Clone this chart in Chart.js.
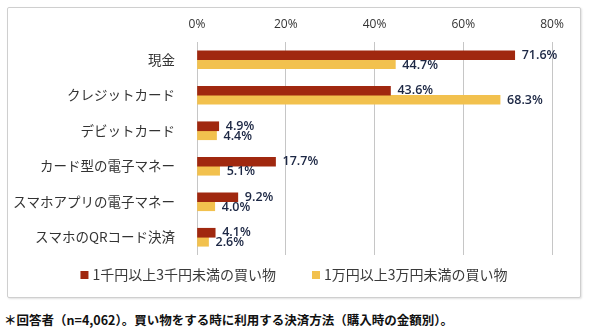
<!DOCTYPE html>
<html lang="ja">
<head>
<meta charset="utf-8">
<script src="https://cdn.jsdelivr.net/npm/chart.js@4.4.1/dist/chart.umd.min.js"></script>
<style>
  html, body { margin: 0; padding: 0; background: #fff; }
  body { width: 590px; height: 332px; position: relative; overflow: hidden; }
  .box {
    position: absolute; left: 7px; top: 7px; width: 572px; height: 289px;
    border: 1px solid #cfcfcf; border-radius: 2px; background: #fff;
    box-shadow: 1px 1px 2px rgba(0,0,0,0.12);
  }
  .note {
    position: absolute; left: 4px; top: 310px;
    font: bold 12.5px "Noto Sans CJK JP", sans-serif; color: #111; white-space: nowrap;
  }
</style>
</head>
<body>
<div class="box"><canvas id="myChart" width="572" height="289"></canvas></div>
<div class="note">＊回答者（n=4,062）。買い物をする時に利用する決済方法（購入時の金額別）。</div>
<script>
document.addEventListener("DOMContentLoaded", function () {
  // payment methods and share of respondents (%)
  var categories = [
    "現金",
    "クレジットカード",
    "デビットカード",
    "カード型の電子マネー",
    "スマホアプリの電子マネー",
    "スマホのQRコード決済",
  ];
  var seriesNames = ["1千円以上3千円未満の買い物", "1万円以上3万円未満の買い物"];
  var small = [71.6, 43.6, 4.9, 17.7, 9.2, 4.1];
  var large = [44.7, 68.3, 4.4, 5.1, 4.0, 2.6];
  var ticks = [0, 20, 40, 60, 80];

  var jp = '"Noto Sans CJK JP", sans-serif';

  // value labels at the end of each bar
  var valueLabels = {
    id: "valueLabels",
    afterDatasetsDraw: function (chart) {
      var ctx = chart.ctx;
      ctx.save();
      ctx.font = '600 12.5px "Open Sans", sans-serif';
      ctx.fillStyle = "#1c2744";
      ctx.textAlign = "left";
      ctx.textBaseline = "middle";
      chart.data.datasets.forEach(function (ds, i) {
        chart.getDatasetMeta(i).data.forEach(function (bar, j) {
          ctx.fillText(ds.data[j].toFixed(1) + "%", bar.x + 7, bar.y + (i === 1 ? 1 : 0));
        });
      });
      ctx.restore();
    },
  };

  // legend row under the plot
  var bottomLegend = {
    id: "bottomLegend",
    afterDraw: function (chart) {
      var ctx = chart.ctx;
      var y = chart.chartArea.bottom + 20;
      var box = 8, gap = 4, spacing = 36;
      ctx.save();
      ctx.font = "14px " + jp;
      ctx.textBaseline = "middle";
      var widths = chart.data.datasets.map(function (ds) {
        return box + gap + ctx.measureText(ds.label).width;
      });
      var total = widths.reduce(function (a, b) { return a + b; }, 0) + spacing * (widths.length - 1);
      var x = (chart.width - total) / 2;
      chart.data.datasets.forEach(function (ds, i) {
        ctx.fillStyle = ds.backgroundColor;
        ctx.fillRect(x, y - box / 2, box, box);
        ctx.fillStyle = "#3a3a3a";
        ctx.fillText(ds.label, x + box + gap, y);
        x += widths[i] + spacing;
      });
      ctx.restore();
    },
  };

  var ctx = document.getElementById("myChart").getContext("2d");

  new Chart(ctx, {
    type: "bar",
    data: {
      labels: categories,
      datasets: [
        { label: seriesNames[0], data: small, backgroundColor: "#a0280f", barThickness: 9 },
        { label: seriesNames[1], data: large, backgroundColor: "#f2c14e", barThickness: 9 },
      ],
    },
    options: {
      indexAxis: "y",
      responsive: false,
      animation: false,
      layout: { padding: { left: 0, right: 28, top: 0, bottom: 42 } },
      plugins: {
        legend: { display: false },
        tooltip: { enabled: false },
      },
      scales: {
        x: {
          position: "top",
          min: ticks[0],
          max: ticks[ticks.length - 1],
          afterBuildTicks: function (scale) {
            scale.ticks = ticks.map(function (v) { return { value: v }; });
          },
          afterFit: function (scale) { scale.height = 34; },
          grid: { color: "#c6c6c6", drawTicks: false },
          border: { display: false },
          ticks: {
            padding: 10,
            color: "#333",
            font: { family: '"Open Sans", sans-serif', size: 12 },
            callback: function (v) { return v + "%"; },
          },
        },
        y: {
          afterFit: function (scale) { scale.width = 189; },
          grid: { display: false },
          border: { display: false },
          ticks: {
            padding: 14,
            color: "#333",
            font: { family: jp, size: 13.5 },
          },
        },
      },
    },
    plugins: [valueLabels, bottomLegend],
  });
});
</script>
</body>
</html>
